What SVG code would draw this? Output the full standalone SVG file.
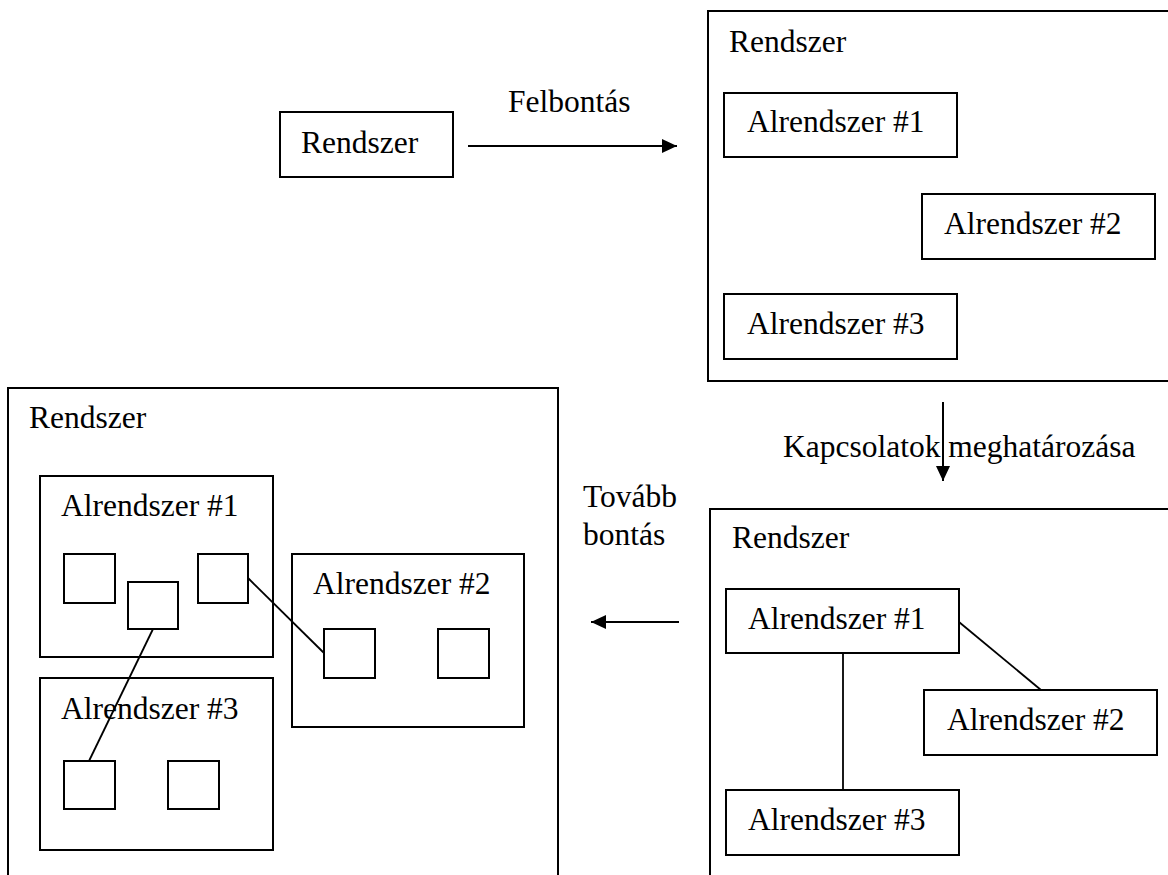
<svg xmlns="http://www.w3.org/2000/svg" width="1168" height="875" viewBox="0 0 1168 875">
  <style>
    .box { fill: #ffffff; stroke: #000000; stroke-width: 2; }
    .cell { fill: #ffffff; stroke: #000000; stroke-width: 2; }
    .link { stroke: #000000; stroke-width: 1.8; fill: none; }
    .flow { stroke: #000000; stroke-width: 2; fill: none; marker-end: url(#head); }
    text { font-family: "Liberation Serif", "Times New Roman", serif; font-size: 31.5px; fill: #000000; }
  </style>
  <defs>
    <marker id="head" markerUnits="userSpaceOnUse" markerWidth="16" markerHeight="14" refX="15" refY="7" orient="auto">
      <path d="M0,0 L15,7 L0,14 Z" fill="#000000"/>
    </marker>
  </defs>

  <rect width="1168" height="875" fill="#ffffff"/>

  <!-- single system -->
  <g id="system-start">
    <rect class="box" x="280" y="112" width="173" height="65"/>
    <text x="301" y="153">Rendszer</text>
  </g>

  <!-- system split into subsystems -->
  <g id="system-split">
    <rect class="box" x="708" y="11" width="480" height="370"/>
    <text x="729" y="52">Rendszer</text>
    <g id="split-sub1">
      <rect class="box" x="724" y="93" width="233" height="64"/>
      <text x="747" y="132">Alrendszer #1</text>
    </g>
    <g id="split-sub2">
      <rect class="box" x="922" y="194" width="233" height="65"/>
      <text x="944" y="234">Alrendszer #2</text>
    </g>
    <g id="split-sub3">
      <rect class="box" x="724" y="294" width="233" height="65"/>
      <text x="747" y="334">Alrendszer #3</text>
    </g>
  </g>

  <!-- subsystems with relations -->
  <g id="system-linked">
    <rect class="box" x="710" y="509" width="480" height="400"/>
    <text x="732" y="548">Rendszer</text>
    <g id="linked-sub1">
      <rect class="box" x="726" y="589" width="233" height="64"/>
      <text x="748" y="629">Alrendszer #1</text>
    </g>
    <g id="linked-sub2">
      <rect class="box" x="924" y="690" width="233" height="65"/>
      <text x="947" y="730">Alrendszer #2</text>
    </g>
    <g id="linked-sub3">
      <rect class="box" x="726" y="790" width="233" height="65"/>
      <text x="748" y="830">Alrendszer #3</text>
    </g>
  </g>

  <!-- further decomposed system -->
  <g id="system-detailed">
    <rect class="box" x="8" y="388" width="550" height="520"/>
    <text x="29" y="428">Rendszer</text>
    <g id="detail-sub1">
      <rect class="box" x="40" y="476" width="233" height="181"/>
      <text x="61" y="516">Alrendszer #1</text>
      <rect class="cell" x="64" y="554" width="51" height="49"/>
      <rect class="cell" x="128" y="582" width="50" height="47"/>
      <rect class="cell" x="198" y="554" width="50" height="49"/>
    </g>
    <g id="detail-sub2">
      <rect class="box" x="292" y="554" width="232" height="173"/>
      <text x="313" y="594">Alrendszer #2</text>
      <rect class="cell" x="324" y="629" width="51" height="49"/>
      <rect class="cell" x="438" y="629" width="51" height="49"/>
    </g>
    <g id="detail-sub3">
      <rect class="box" x="40" y="678" width="233" height="172"/>
      <text x="61" y="719">Alrendszer #3</text>
      <rect class="cell" x="64" y="761" width="51" height="48"/>
      <rect class="cell" x="168" y="761" width="51" height="48"/>
    </g>
  </g>

  <!-- connectors -->
  <g id="connectors">
    <line class="flow" x1="468" y1="146" x2="677" y2="146"/>
    <text x="508" y="112">Felbontás</text>

    <line class="flow" x1="943" y1="402" x2="943" y2="481"/>
    <text x="783" y="457">Kapcsolatok meghatározása</text>

    <line class="flow" x1="679" y1="622" x2="591" y2="622"/>
    <text x="583" y="507">Tovább</text>
    <text x="583" y="545">bontás</text>

    <line class="link" x1="843" y1="653" x2="843" y2="790"/>
    <line class="link" x1="959" y1="622" x2="1041" y2="690"/>

    <line class="link" x1="248" y1="578" x2="324" y2="653"/>
    <line class="link" x1="153" y1="629" x2="89" y2="761"/>
  </g>
</svg>
